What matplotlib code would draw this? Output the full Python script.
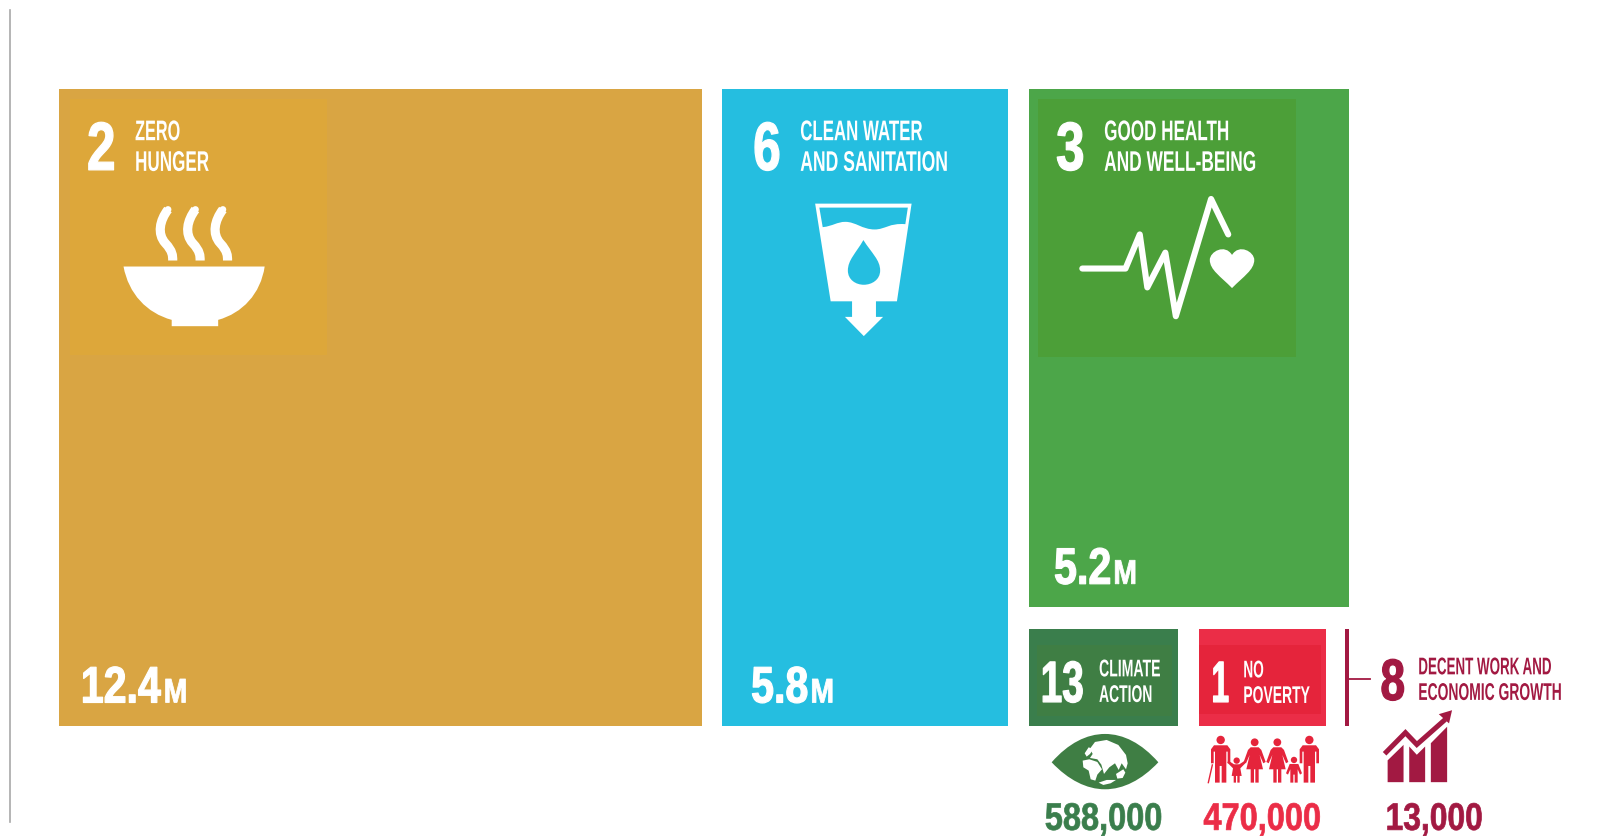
import matplotlib
matplotlib.use("Agg")
import matplotlib.pyplot as plt
from matplotlib.patches import Rectangle, PathPatch, Circle, Polygon
from matplotlib.path import Path
from matplotlib.patheffects import AbstractPathEffect
from matplotlib.text import Text
from matplotlib.transforms import Affine2D, Bbox

# ---- data ----
goal_numbers = ["2", "6", "3", "13", "1", "8"]
goal_line1 = ["ZERO", "CLEAN WATER", "GOOD HEALTH", "CLIMATE", "NO", "DECENT WORK AND"]
goal_line2 = ["HUNGER", "AND SANITATION", "AND WELL-BEING", "ACTION", "POVERTY", "ECONOMIC GROWTH"]
value_labels = ["12.4", "5.8", "5.2", "588,000", "470,000", "13,000"]
value_units = ["M", "M", "M", "", "", ""]

# ---- layout (reference-scale units) ----
W, H = 1569.4, 817
outer = [(57.3, 87, 686, 709.5), (706, 87, 985.5, 709.5), (1006, 87, 1318.5, 593),
         (1006, 615, 1151.5, 709.5), (1172, 615, 1295.5, 709.5)]
inner = [(68, 97, 320, 347), None, (1014, 97, 1266, 349),
         (1013, 630, 1145, 700), (1172, 630, 1291, 698)]
outer_col = ["#D9A543", "#25BEE0", "#4CA649", "#3A7E4C", "#EB2D47"]
inner_col = ["#DDA73A", None, "#4C9F38", "#3F7E44", "#E5243B"]
RED8 = "#A21942"

plt.rcParams["font.family"] = ["Liberation Sans Narrow", "Liberation Sans", "DejaVu Sans"]
fig = plt.figure(figsize=(16.06, 8.36), dpi=100)
ax = fig.add_axes([0, 0, 1, 1])
ax.set_xlim(0, W)
ax.set_ylim(H, 0)
ax.axis("off")
S = 1606 / W


class Squeeze(AbstractPathEffect):
    """Draw a text narrower about its left end, optionally with a thickening stroke."""
    def __init__(self, sx, stroke=0.0):
        super().__init__()
        self.sx = sx
        self.stroke = stroke

    def draw_path(self, renderer, gc, tpath, affine, rgbFace=None):
        x0 = affine.get_matrix()[0, 2]
        aff = affine + Affine2D().translate(-x0, 0).scale(self.sx, 1).translate(x0, 0)
        gc0 = renderer.new_gc()
        gc0.copy_properties(gc)
        if self.stroke and rgbFace is not None:
            gc0.set_foreground(rgbFace)
            gc0.set_linewidth(self.stroke)
        renderer.draw_path(gc0, tpath, aff, rgbFace)
        gc0.restore()


class NarrowText(Text):
    """A text whose reported extent follows the narrowed drawing."""
    sx = 1.0

    def _get_layout(self, renderer):
        bbox, info, descent = super()._get_layout(renderer)
        narrow = Bbox.from_bounds(bbox.x0, bbox.y0, bbox.width * self.sx, bbox.height)
        return narrow, info, descent


def label(x, base, s, cap, width, color="white", stroke=0.0):
    size = cap * S / 0.72 * 72 / 100
    t = NarrowText(x, base, s, fontsize=size, color=color, weight="bold", ha="left", va="baseline")
    ax.add_artist(t)
    ext = t.get_window_extent(fig.canvas.get_renderer())
    t.sx = min(1.0, width * S / ext.width)
    t.set_path_effects([Squeeze(t.sx, stroke)])
    return t


def poly(pts, color, z=3):
    ax.add_patch(Polygon(pts, closed=True, fc=color, ec="none", zorder=z))


def curve(verts, codes, color, z=3, lw=0, ec="none", fill=True, cap="round"):
    p = PathPatch(Path(verts, codes), fc=color if fill else "none", ec=ec, lw=lw, zorder=z,
                  capstyle=cap, joinstyle="round")
    ax.add_patch(p)


M, C, L, Z = Path.MOVETO, Path.CURVE4, Path.LINETO, Path.CLOSEPOLY

# left rule
ax.plot([9.5, 9.5], [10, 803], color="#A8A8A8", lw=1.2)

# boxes
for b, c in zip(outer, outer_col):
    ax.add_patch(Rectangle((b[0], b[1]), b[2] - b[0], b[3] - b[1], fc=c, ec="none", zorder=1))
for b, c in zip(inner, inner_col):
    if b:
        ax.add_patch(Rectangle((b[0], b[1]), b[2] - b[0], b[3] - b[1], fc=c, ec="none", zorder=2))
# goal 8 bracket
ax.add_patch(Rectangle((1314, 615), 4, 94.5, fc=RED8, ec="none", zorder=1))
ax.plot([1318, 1339], [664, 664], color=RED8, lw=1.3)

# labels
rows = [
    (85, 166, 48, 28, 132, 137, 167, 20, 44, 72),
    (736, 166, 48, 27, 782, 137, 167, 20, 119, 144),
    (1032, 166, 48, 28, 1079, 137, 167, 20, 122, 148),
    (1017, 686, 41, 42, 1074, 661, 686, 17, 60, 52),
    (1184, 686, 41, 17, 1215, 662, 687, 17, 20, 65),
    (1349, 684, 41, 24, 1386, 659, 684, 17, 130, 140),
]
cols = ["white"] * 5 + [RED8]
for i, r in enumerate(rows):
    label(r[0], r[1], goal_numbers[i], r[2], r[3], cols[i], stroke=0.9)
    label(r[4], r[5], goal_line1[i], r[7], r[8], cols[i])
    label(r[4], r[6], goal_line2[i], r[7], r[9], cols[i])

vals = [(79, 686.5, 78, 160), (734, 686.5, 56, 792), (1030, 570.5, 56, 1088)]
for i, v in enumerate(vals):
    label(v[0], v[1], value_labels[i], 36, v[2], stroke=0.9)
    label(v[3], v[1], value_units[i], 24, 23, stroke=0.6)
small = [(1021, 115, "#3A7E4C"), (1176, 115, "#EB2D47"), (1354, 95, RED8)]
for i, v in enumerate(small):
    label(v[0], 811, value_labels[3 + i], 27, v[1], v[2], stroke=0.5)


# --- icon: bowl ---
def z1(x, y):
    return (57 + (x - 175) / 3.06, 87.5 + (y - 87) / 3.07)


bc = [M, L, C, C, C, L, L, L, C, C, C, Z]
bv = [(370, 618), (792, 618), (780, 700), (725, 758), (653, 778), (653, 797), (514, 797), (514, 778),
      (440, 758), (385, 700), (370, 618), (370, 618)]
curve([z1(*p) for p in bv], bc, "white")
for dx in (0, 82, 164):
    sv = [(503, 447), (478, 480), (470, 520), (495, 548), (517, 572), (517, 585), (517, 600)]
    sc = [M, C, C, C, C, C, C]
    curve([z1(x + dx, y) for x, y in sv], sc, "white", lw=6.6, ec="white", fill=False, cap="butt")
    ax.add_patch(Circle(z1(503 + dx, 447), 3.3, fc="white", ec="none", zorder=3))


# --- icon: glass ---
def z3(x, y):
    return (1006 + (x - 784) / 2.44, 88 + (y - 27) / 3.09)


glass = [(273, 370), (503, 370), (468, 665), (418, 665), (418, 712), (435, 712), (389, 770),
         (344, 712), (361, 712), (361, 665), (310, 665)]
poly([z3(*p) for p in glass], "white")
BLUE = outer_col[1]
gv = [(283, 382), (494, 382), (488, 432), (450, 428), (440, 448), (415, 448), (385, 448), (370, 425),
      (345, 425), (325, 425), (315, 438), (291, 441), (283, 382)]
gc = [M, L, L, C, C, C, C, C, C, C, C, C, Z]
curve([z3(*p) for p in gv], gc, BLUE, z=4)
dv = [(388, 480), (370, 520), (351, 540), (351, 572), (351, 600), (370, 615), (389, 615), (408, 615),
      (428, 600), (428, 572), (428, 540), (408, 520), (388, 480)]
dc = [M, C, C, C, C, C, C, C, C, C, C, C, C]
curve([z3(*p) for p in dv], dc, BLUE, z=4)

# --- icon: pulse and heart ---
pulse = [(910, 566), (1013, 566), (1047, 463), (1065, 623), (1108, 518), (1133, 710), (1217, 356), (1258, 463)]
px, py = zip(*[z3(*p) for p in pulse])
ax.plot(px, py, color="white", lw=4.4, solid_capstyle="round", solid_joinstyle="round", zorder=3)
hv = [(1267, 625), (1240, 590), (1214, 570), (1214, 540), (1214, 515), (1250, 490), (1267, 525),
      (1284, 490), (1320, 515), (1320, 540), (1320, 570), (1294, 590), (1267, 625)]
hc = [M, C, C, C, C, C, C, C, C, C, C, C, C]
curve([z3(*p) for p in hv], hc, "white")

# --- icons in the small row ---
K = S


def z2(x, y):
    return (1006 + (x - 53) / 2.70, 616 + (y - 88) / 3.1)


def zg(x, y):
    return ((1040 + x / 3) / K, (730 + y / 3) / K)


def zf(x, y):
    return ((1205 + x / 3) / K, (730 + y / 3) / K)


GREEN = "#3F7E44"
ev = [(35, 97), (85, 40), (140, 12), (195, 12), (250, 12), (305, 40), (355, 97),
      (305, 150), (250, 178), (195, 178), (140, 178), (85, 150), (35, 97)]
ec_ = [M, C, C, C, C, C, C, C, C, C, C, C, C]
curve([zg(*p) for p in ev], ec_, GREEN)
land = [
    # Eurasia
    [(150, 56), (165, 36), (200, 30), (235, 45), (258, 75), (263, 100), (258, 118), (245, 100), (236, 120),
     (225, 100), (208, 112), (192, 132), (184, 104), (172, 88), (150, 84), (158, 72)],
    # Europe
    [(134, 70), (146, 52), (160, 58), (150, 72), (140, 80)],
    # Africa
    [(128, 92), (148, 88), (172, 96), (186, 118), (172, 134), (166, 152), (152, 148), (146, 122), (130, 112)],
    # Australia
    [(228, 132), (250, 118), (256, 128), (248, 144), (232, 146)],
    # Antarctica
    [(176, 158), (200, 150), (228, 150), (212, 160), (190, 165)],
]
for s in land:
    poly([zg(*p) for p in s], "white", z=5)

PINK = "#E5243B"


def man(x):
    poly([zf(*p) for p in [
        (x - 29, 58), (x - 20, 46), (x + 20, 46), (x + 29, 58), (x + 29, 100), (x + 21, 100), (x + 21, 65),
        (x + 17, 65), (x + 17, 158), (x + 3, 158), (x + 3, 108), (x - 3, 108), (x - 3, 158), (x - 17, 158),
        (x - 17, 65), (x - 21, 65), (x - 21, 100), (x - 29, 100)]], PINK)


def woman(x):
    poly([zf(*p) for p in [
        (x - 12, 52), (x + 12, 52), (x + 20, 60), (x + 33, 96), (x + 26, 100), (x + 15, 75), (x + 25, 118),
        (x + 12, 118), (x + 12, 158), (x + 2, 158), (x + 2, 118), (x - 2, 118), (x - 2, 158), (x - 12, 158),
        (x - 12, 118), (x - 25, 118), (x - 15, 75), (x - 26, 100), (x - 33, 96), (x - 20, 60)]], PINK)


def girl(x):
    poly([zf(*p) for p in [
        (x - 8, 103), (x + 8, 103), (x + 25, 92), (x + 28, 98), (x + 11, 115), (x + 15, 138), (x + 9, 138),
        (x + 9, 158), (x + 2, 158), (x + 2, 138), (x - 2, 138), (x - 2, 158), (x - 9, 158), (x - 9, 138),
        (x - 15, 138), (x - 11, 115), (x - 28, 98), (x - 25, 92)]], PINK)


def boy(x):
    poly([zf(*p) for p in [
        (x - 13, 102), (x + 13, 102), (x + 24, 130), (x + 18, 134), (x + 11, 118), (x + 11, 158), (x + 2, 158),
        (x + 2, 134), (x - 2, 134), (x - 2, 158), (x - 11, 158), (x - 11, 118), (x - 18, 134), (x - 24, 130)]], PINK)


for x, y, r in [(47, 30, 4.1), (95, 92, 3.1), (149, 37, 3.8), (217, 37, 3.8), (267, 90, 3.1), (313, 30, 4.1)]:
    ax.add_patch(Circle(zf(x, y), r, fc=PINK, ec="none", zorder=3))
man(47)
man(313)
woman(149)
woman(217)
girl(95)
boy(267)
ax.plot(*zip(zf(22, 105), zf(10, 158)), color=PINK, lw=1.0, zorder=3)

bars = [
    [(998, 548), (998, 482), (1040, 435), (1040, 548)],
    [(1055, 548), (1055, 440), (1075, 465), (1097, 440), (1097, 548)],
    [(1112, 548), (1112, 430), (1155, 380), (1155, 548)],
]
for b in bars:
    poly([z2(*p) for p in b], RED8)
ln = [(990, 462), (1045, 398), (1075, 434), (1150, 358)]
lx, ly = zip(*[z2(*p) for p in ln])
ax.plot(lx, ly, color=RED8, lw=3.6, solid_joinstyle="miter", solid_capstyle="butt", zorder=3)
poly([z2(*p) for p in [(1168, 330), (1133, 342), (1160, 370)]], RED8)

fig.savefig("out.png", dpi=100, facecolor="white")
